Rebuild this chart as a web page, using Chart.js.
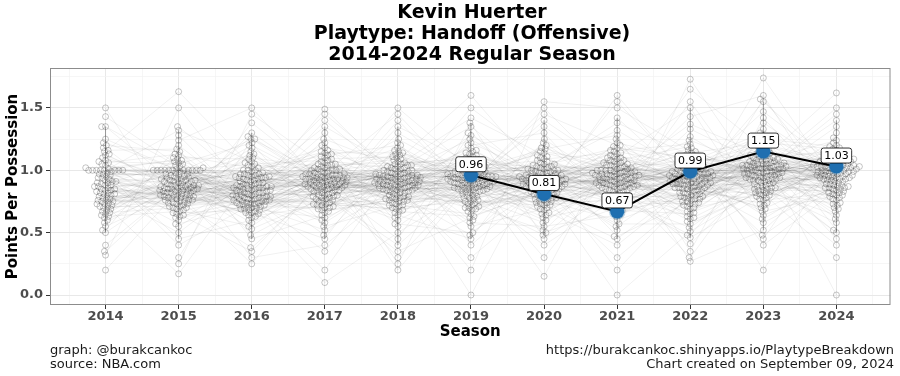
<!DOCTYPE html>
<html>
<head>
<meta charset="utf-8">
<script src="https://cdn.jsdelivr.net/npm/chart.js@4.4.1/dist/chart.umd.min.js"></script>
<style>
  html, body { margin: 0; padding: 0; background: #ffffff; }
  #wrap { position: relative; width: 900px; height: 376px; overflow: hidden; font-family: "DejaVu Sans", sans-serif; }
  #c { position: absolute; left: 0; top: 0; }
  .t { position: absolute; white-space: nowrap; }
  #title { left: 50px; width: 844px; top: 1px; text-align: center; font-weight: bold; font-size: 19px; line-height: 21px; color: #000; }
  .foot { font-size: 13px; line-height: 14px; color: #1a1a1a; }
</style>
</head>
<body>
<div id="wrap">
  <canvas id="c" width="900" height="376"></canvas>
  <div id="title" class="t">Kevin Huerter<br>Playtype: Handoff (Offensive)<br>2014-2024 Regular Season</div>
  <div class="t foot" style="left:50px; top:343px;">graph: @burakcankoc<br>source: NBA.com</div>
  <div class="t foot" style="right:6px; top:343px; text-align:right;">https://burakcankoc.shinyapps.io/PlaytypeBreakdown<br>Chart created on September 09, 2024</div>
</div>
<script>
// ---------------- DATA ----------------
const seasons = [2014, 2015, 2016, 2017, 2018, 2019, 2020, 2021, 2022, 2023, 2024];
const yTickValues = [0, 0.5, 1.0, 1.5];

const ppp2014 = [1.00,0.82,0.71,1.12,0.95,0.63,1.00,0.88,0.76,1.35,0.91,0.58,1.04,0.79,0.67,1.00,0.85,1.20,0.73,0.97,0.50,1.08,0.81,0.69,1.00,0.93,0.75,1.25,0.87,0.62,1.02,0.78,1.15,0.40,0.90,1.00,0.72,0.84,1.06,0.66,0.94,1.35,0.80,0.55,1.00,0.89,0.74,1.18,0.98,0.70,0.83,1.50,0.92,0.64,1.00,0.77,1.10,0.86,0.60,0.96,0.35,1.22,0.81,0.75,0.99,0.88,0.68,1.05,0.91,0.20,0.79,1.13,0.84,0.71,1.00,0.94,0.65,1.43,0.87,0.76,1.01,0.82,0.32,0.97,0.73,1.16,0.90,0.52,0.85,1.07];
const ppp2015 = [0.85,1.00,0.78,0.92,1.05,0.71,0.88,1.00,0.64,0.95,0.82,1.12,0.76,0.90,1.00,0.68,0.84,1.08,0.79,0.93,0.57,1.00,0.87,0.74,1.15,0.81,0.96,0.70,1.00,0.89,0.62,1.02,0.83,0.77,1.35,0.91,0.73,1.00,0.86,0.98,0.66,1.10,0.80,0.94,0.75,1.00,0.88,0.45,1.04,0.82,0.69,0.92,1.20,0.78,0.85,1.00,0.97,0.72,0.87,1.32,0.80,0.93,0.60,1.06,0.84,0.76,1.00,0.90,0.67,1.13,0.83,0.95,0.74,0.40,0.88,1.01,0.79,0.86,1.28,0.71,0.99,0.82,0.55,0.91,1.07,0.77,0.84,1.00,0.73,0.94,0.81,1.63,0.87,0.65,1.03,0.78,0.89,0.30,0.96,0.83,1.17,0.75,0.92,0.50,0.85,1.09,0.70,0.80,0.25,0.97,0.86,1.50,0.79,0.93,0.63,1.00,0.88,0.17,0.84,1.24,0.76,0.91];
const ppp2016 = [0.82,0.95,0.74,1.05,0.68,0.88,0.77,1.25,0.93,0.71,0.85,1.00,0.66,0.90,0.79,1.10,0.83,0.72,0.97,0.58,0.87,1.25,0.75,0.92,0.69,1.03,0.80,0.96,0.64,0.86,1.15,0.78,0.94,0.70,0.84,1.30,0.76,0.99,0.73,0.89,0.53,1.07,0.81,0.67,0.95,0.77,1.22,0.88,0.72,0.84,1.00,0.62,0.91,0.79,1.45,0.74,0.96,0.85,0.68,1.12,0.82,0.76,0.93,0.48,0.87,1.02,0.71,0.80,0.97,0.65,1.27,0.83,0.75,0.90,1.38,0.78,0.86,0.60,1.06,0.73,0.94,0.81,0.70,0.89,1.18,0.77,0.38,0.92,0.84,0.66,1.00,0.79,0.95,0.55,0.74,1.09,0.86,0.72,0.98,0.35,0.82,1.50,0.76,0.91,0.63,1.04,0.80,0.88,0.25,0.94,0.69,0.85,1.20,0.78,0.30,0.97,0.75,0.87,0.45,1.13];
const ppp2017 = [0.93,0.80,1.05,0.88,0.72,0.98,1.12,0.85,0.67,0.95,1.00,0.78,0.90,1.20,0.83,0.96,0.70,1.08,0.87,0.92,0.75,1.02,0.64,0.94,0.81,1.15,0.89,0.97,0.73,1.04,0.86,0.58,0.99,0.91,0.77,1.25,0.84,0.95,0.69,1.10,0.88,1.01,0.79,0.93,0.62,1.06,0.82,0.97,0.74,1.30,0.90,0.85,1.00,0.71,0.94,1.13,0.87,0.52,0.96,0.80,1.03,0.92,0.76,1.18,0.89,0.98,0.68,0.84,1.07,0.93,0.78,1.40,0.95,0.86,0.45,1.00,0.91,0.73,1.09,0.83,0.97,0.66,0.88,1.22,0.94,0.80,1.02,0.35,0.90,0.75,1.14,0.87,0.99,0.60,0.92,1.05,0.82,0.96,0.70,1.35,0.85,0.93,0.48,1.01,0.89,0.77,1.16,0.94,0.55,0.86,1.45,0.91,0.79,0.20,0.97,1.04,0.84,0.72,1.49,0.90,0.10,0.88,1.11,0.95,0.40];
const ppp2018 = [0.92,0.85,1.03,0.78,0.96,1.10,0.88,0.72,0.99,0.83,1.06,0.91,0.75,1.15,0.87,0.95,0.68,1.01,0.90,0.80,1.20,0.93,0.86,0.62,1.04,0.97,0.77,0.89,1.12,0.84,0.94,0.70,1.00,0.88,1.25,0.81,0.96,0.74,1.08,0.91,0.57,0.98,0.85,1.02,0.79,0.93,1.35,0.87,0.66,1.05,0.90,0.95,0.76,1.14,0.82,0.97,0.50,0.89,1.01,0.73,0.92,1.18,0.86,0.99,0.69,1.07,0.84,0.94,0.78,1.40,0.91,0.60,1.03,0.88,0.96,0.75,1.22,0.83,0.93,0.45,1.00,0.87,0.71,1.09,0.95,0.80,0.98,0.64,0.90,1.16,0.85,0.92,0.30,1.04,0.77,0.97,0.89,1.30,0.82,0.94,0.55,1.11,0.86,0.99,0.72,0.91,1.45,0.79,0.25,1.02,0.88,0.67,0.95,1.05,0.40,0.84,1.50,0.93,0.20,0.76,1.13,0.90,0.35];
const ppp2019 = [0.95,0.82,1.05,0.90,0.74,1.12,0.88,0.98,0.67,1.02,0.85,0.93,1.20,0.79,0.97,0.70,1.08,0.91,0.84,1.00,0.62,0.94,1.15,0.87,0.76,1.03,0.96,0.81,1.30,0.89,0.72,0.99,0.92,1.10,0.78,0.95,0.55,1.06,0.86,0.93,0.68,1.25,0.90,0.83,1.01,0.75,0.97,1.14,0.88,0.60,0.94,1.04,0.80,0.91,1.42,0.85,0.98,0.71,1.09,0.87,0.96,0.50,0.92,1.18,0.82,1.00,0.77,0.95,1.07,0.89,0.65,1.35,0.93,0.84,0.99,0.73,1.02,0.88,0.45,0.96,1.22,0.86,0.91,0.69,1.11,0.94,0.80,1.50,0.90,0.97,0.58,1.05,0.83,0.92,0.30,1.16,0.87,0.75,1.01,0.95,0.40,0.89,1.28,0.84,0.98,0.63,1.03,0.91,0.20,0.86,1.60,0.93,0.78,1.13,0.96,0.00,0.85,1.38,0.90,0.70,1.00,0.94,0.48];
const ppp2020 = [0.90,0.83,1.02,0.76,0.95,1.10,0.87,0.70,0.98,0.81,1.05,0.92,0.74,1.15,0.86,0.94,0.66,1.00,0.89,0.79,1.22,0.93,0.84,0.60,1.03,0.97,0.77,0.88,1.12,0.82,0.95,0.71,1.08,0.91,1.30,0.80,0.96,0.73,1.04,0.87,0.55,0.99,0.85,1.01,0.78,0.92,1.40,0.88,0.64,1.06,0.90,0.94,0.75,1.17,0.83,0.97,0.50,0.89,1.00,0.72,0.93,1.20,0.86,0.98,0.68,1.09,0.84,0.91,0.79,1.45,0.95,0.58,1.02,0.87,0.96,0.74,1.25,0.82,0.92,0.45,1.00,0.88,0.69,1.07,0.94,0.80,0.99,0.62,0.90,1.14,0.85,0.93,0.30,1.03,0.76,0.97,0.89,1.35,0.81,0.95,0.52,1.11,0.86,1.50,0.72,0.91,1.55,0.78,0.15,1.01,0.87,0.65,0.94,1.05,0.40,0.83,1.18,0.92,0.48,0.77];
const ppp2021 = [0.95,0.86,1.05,0.78,0.99,1.12,0.90,0.72,1.01,0.84,1.08,0.93,0.76,1.18,0.88,0.97,0.68,1.03,0.92,0.81,1.25,0.96,0.87,0.63,1.06,1.00,0.79,0.91,1.14,0.85,0.98,0.73,1.10,0.94,1.32,0.83,0.99,0.75,1.07,0.89,0.57,1.02,0.88,1.04,0.80,0.95,1.42,0.90,0.66,1.09,0.93,0.97,0.77,1.20,0.86,1.00,0.52,0.92,1.03,0.74,0.96,1.22,0.89,1.01,0.70,1.11,0.87,0.94,0.82,1.50,0.98,0.60,1.05,0.90,0.99,0.76,1.28,0.85,0.95,0.47,1.02,0.91,0.71,1.10,0.97,0.83,1.00,0.64,0.93,1.16,0.88,0.96,0.30,1.06,0.79,1.00,0.92,1.38,0.84,0.98,0.55,1.13,0.89,1.55,0.74,0.94,1.60,0.80,0.20,1.04,0.90,0.67,0.97,1.08,0.40,0.86,1.19,0.95,0.45,0.78,0.00,0.87,1.15];
const ppp2022 = [0.92,0.84,1.04,0.77,0.97,1.11,0.89,0.71,1.00,0.82,1.07,0.94,0.75,1.16,0.87,0.96,0.67,1.02,0.91,0.80,1.24,0.95,0.86,0.62,1.05,0.99,0.78,0.90,1.13,0.83,0.97,0.72,1.09,0.93,1.33,0.81,0.98,0.74,1.06,0.88,0.57,1.01,0.86,1.03,0.79,0.94,1.43,0.89,0.65,1.08,0.92,0.96,0.76,1.19,0.85,0.99,0.51,0.91,1.02,0.73,0.95,1.21,0.88,1.00,0.69,1.10,0.86,0.93,0.80,1.50,0.97,0.59,1.04,0.89,0.98,0.75,1.27,0.84,0.94,0.46,1.01,0.90,0.70,1.09,0.96,0.82,0.99,0.63,0.92,1.15,0.87,0.95,0.35,1.05,0.78,0.98,0.91,1.37,0.83,0.97,0.54,1.12,0.88,1.55,0.73,0.93,1.65,0.79,0.27,1.03,0.89,0.66,0.96,1.07,0.41,0.85,1.18,0.94,0.48,0.77,1.73,0.86,0.30,1.01,0.81,0.61,1.14,0.90];
const ppp2023 = [1.00,0.92,1.10,0.84,1.04,1.18,0.96,0.78,1.07,0.89,1.13,1.01,0.81,1.22,0.94,1.03,0.74,1.08,0.98,0.87,1.30,1.02,0.93,0.70,1.11,1.05,0.85,0.97,1.20,0.90,1.04,0.79,1.15,1.00,1.38,0.88,1.06,0.82,1.12,0.95,0.64,1.08,0.93,1.09,0.86,1.01,1.47,0.96,0.72,1.14,0.99,1.03,0.83,1.25,0.92,1.06,0.58,0.98,1.09,0.80,1.02,1.28,0.95,1.07,0.76,1.17,0.94,1.00,0.87,1.55,1.04,0.67,1.11,0.97,1.05,0.82,1.33,0.91,1.01,0.52,1.08,0.98,0.77,1.16,1.03,0.89,1.06,0.69,0.99,1.21,0.94,1.02,0.45,1.12,0.85,1.05,0.97,1.42,0.90,1.04,0.61,1.19,0.95,1.60,0.80,1.00,1.57,0.86,0.20,1.10,0.96,0.73,1.03,1.14,0.48,0.92,1.24,1.01,0.40,0.84,1.74,0.93];
const ppp2024 = [1.00,0.91,1.08,0.84,1.03,1.15,0.95,0.78,1.05,0.88,1.11,0.99,0.81,1.19,0.93,1.02,0.74,1.07,0.97,0.86,1.26,1.01,0.92,0.70,1.09,1.04,0.85,0.96,1.17,0.89,1.03,0.79,1.13,0.98,1.35,0.87,1.05,0.82,1.10,0.94,0.64,1.06,0.92,1.07,0.86,0.99,1.45,0.95,0.72,1.12,0.98,1.02,0.83,1.22,0.91,1.04,0.58,0.97,1.08,0.80,1.01,1.24,0.94,1.06,0.76,1.14,0.93,0.99,0.87,1.50,1.03,0.67,1.09,0.96,1.04,0.82,1.30,0.90,1.00,0.52,1.07,0.97,0.77,1.16,1.02,0.88,1.05,0.69,0.98,1.20,0.93,1.01,0.45,1.11,0.85,1.04,0.96,1.40,0.89,1.03,0.61,1.18,0.94,1.62,0.80,0.99,0.30,0.86,0.40,1.09,0.95,0.73,1.02,0.00,0.50];

const huerterSeasons = [2019, 2020, 2021, 2022, 2023, 2024];
const huerterPPP = [0.96, 0.81, 0.67, 0.99, 1.15, 1.03];

const seasonValues = [ppp2014, ppp2015, ppp2016, ppp2017, ppp2018, ppp2019, ppp2020, ppp2021, ppp2022, ppp2023, ppp2024];

// ---------------- LAYOUT HELPERS ----------------
const X_MIN = 2013.24, X_MAX = 2024.74, Y_MIN = -0.08, Y_MAX = 1.82;
const PLOT_W = 844, PLOT_H = 237;
const pxPerX = PLOT_W / (X_MAX - X_MIN);
const pxPerY = PLOT_H / (Y_MAX - Y_MIN);
const SWARM_D = 3.9; // min distance between point centres (px)

function beeswarm(vals) {
  const idx = vals.map((v, i) => i).sort((a, b) => vals[a] - vals[b]);
  const placed = [];
  const off = new Array(vals.length).fill(0);
  for (const i of idx) {
    const y = vals[i] * pxPerY;
    const near = placed.filter(p => Math.abs(p.y - y) < SWARM_D);
    const cands = [0];
    for (const p of near) {
      const dx = Math.sqrt(SWARM_D * SWARM_D - (p.y - y) * (p.y - y));
      cands.push(p.x + dx, p.x - dx);
    }
    cands.sort((a, b) => Math.abs(a) - Math.abs(b) || a - b);
    let chosen = 0;
    for (const c of cands) {
      let ok = true;
      for (const p of near) {
        const ddx = p.x - c, ddy = p.y - y;
        if (ddx * ddx + ddy * ddy < SWARM_D * SWARM_D - 0.01) { ok = false; break; }
      }
      if (ok) { chosen = c; break; }
    }
    placed.push({ x: chosen, y: y });
    off[i] = chosen;
  }
  return off;
}

// swarm points
const swarmPoints = [];
seasonValues.forEach((vals, s) => {
  const off = beeswarm(vals);
  vals.forEach((v, i) => swarmPoints.push({ x: seasons[s] + off[i] / pxPerX, y: v }));
});

// player connecting segments between consecutive seasons
// (row i of one season is linked to a fixed, scrambled row of the next season)
const playerLines = [];
for (let s = 0; s < seasons.length - 1; s++) {
  const a = seasonValues[s], b = seasonValues[s + 1];
  for (let i = 0; i < a.length; i++) {
    const j = (i * 37 + s * 13 + 5) % b.length;
    playerLines.push({ x: seasons[s], y: a[i] });
    playerLines.push({ x: seasons[s + 1], y: b[j] });
    playerLines.push({ x: seasons[s + 1], y: null });
  }
}

// within-season vertical strokes
const seasonStrokes = [];
seasonValues.forEach((vals, s) => {
  const sorted = vals.slice().sort((a, b) => a - b);
  seasonStrokes.push({ x: seasons[s], y: sorted[4] });
  seasonStrokes.push({ x: seasons[s], y: sorted[sorted.length - 4] });
  seasonStrokes.push({ x: seasons[s], y: null });
});

const huerterData = huerterSeasons.map((s, i) => ({ x: s, y: huerterPPP[i] }));

// ---------------- PLUGINS ----------------
const panelPlugin = {
  id: 'panel',
  afterDatasetsDraw(chart) {
    const { ctx, chartArea: a } = chart;
    const meta = chart.getDatasetMeta(0);
    ctx.save();
    ctx.font = '11px "DejaVu Sans", sans-serif';
    ctx.textAlign = 'center';
    ctx.textBaseline = 'middle';
    meta.data.forEach((el, i) => {
      const txt = huerterPPP[i].toFixed(2);
      const w = ctx.measureText(txt).width + 6;
      const h = 15;
      const cx = el.x, cy = el.y - 11;
      const r = 2.5;
      const x0 = cx - w / 2, y0 = cy - h / 2;
      ctx.beginPath();
      ctx.moveTo(x0 + r, y0);
      ctx.lineTo(x0 + w - r, y0);
      ctx.quadraticCurveTo(x0 + w, y0, x0 + w, y0 + r);
      ctx.lineTo(x0 + w, y0 + h - r);
      ctx.quadraticCurveTo(x0 + w, y0 + h, x0 + w - r, y0 + h);
      ctx.lineTo(x0 + r, y0 + h);
      ctx.quadraticCurveTo(x0, y0 + h, x0, y0 + h - r);
      ctx.lineTo(x0, y0 + r);
      ctx.quadraticCurveTo(x0, y0, x0 + r, y0);
      ctx.closePath();
      ctx.fillStyle = '#ffffff';
      ctx.fill();
      ctx.lineWidth = 0.8;
      ctx.strokeStyle = '#000000';
      ctx.stroke();
      ctx.fillStyle = '#000000';
      ctx.fillText(txt, cx, cy + 0.5);
    });
    ctx.strokeStyle = '#8c8c8c';
    ctx.lineWidth = 1;
    ctx.strokeRect(a.left + 0.5, a.top + 0.5, a.right - a.left - 1, a.bottom - a.top - 1);
    ctx.restore();
  }
};

// ---------------- CHART ----------------
const isMajorY = v => Math.abs(v * 2 - Math.round(v * 2)) < 1e-6;
const isMajorX = v => Math.abs(v - Math.round(v)) < 1e-6;

new Chart(document.getElementById('c'), {
  type: 'scatter',
  data: {
    datasets: [
      {
        label: 'Kevin Huerter',
        data: huerterData,
        showLine: true,
        borderColor: '#000000',
        borderWidth: 2,
        pointRadius: 7,
        pointBackgroundColor: '#1f6fb0',
        pointBorderColor: 'rgba(31,111,176,0.3)',
        pointBorderWidth: 2.5,
        order: 0
      },
      {
        label: 'players',
        data: swarmPoints,
        pointRadius: 3,
        pointBackgroundColor: 'rgba(0,0,0,0)',
        pointBorderColor: 'rgba(40,40,40,0.45)',
        pointBorderWidth: 0.6,
        order: 1
      },
      {
        label: 'season strokes',
        data: seasonStrokes,
        showLine: true,
        spanGaps: false,
        borderColor: 'rgba(30,30,30,0.4)',
        borderWidth: 1,
        pointRadius: 0,
        order: 2
      },
      {
        label: 'player lines',
        data: playerLines,
        showLine: true,
        spanGaps: false,
        borderColor: 'rgba(0,0,0,0.08)',
        borderWidth: 0.8,
        pointRadius: 0,
        order: 3
      }
    ]
  },
  options: {
    responsive: false,
    animation: false,
    events: [],
    layout: { padding: { top: 68, right: 6, bottom: 31, left: 0 } },
    plugins: { legend: { display: false }, tooltip: { enabled: false }, title: { display: false } },
    scales: {
      x: {
        type: 'linear',
        min: X_MIN,
        max: X_MAX,
        afterBuildTicks(scale) {
          const t = [];
          for (let v = seasons[0] - 0.5; v <= seasons[seasons.length - 1] + 0.5; v += 0.5) t.push({ value: v });
          scale.ticks = t;
        },
        afterFit(scale) { scale.height = 40; },
        ticks: {
          autoSkip: false,
          maxRotation: 0,
          padding: 0,
          color: '#4d4d4d',
          font: { family: '"DejaVu Sans", sans-serif', size: 13, weight: 'bold' },
          callback: v => (isMajorX(v) && seasons.includes(Math.round(v))) ? String(Math.round(v)) : ''
        },
        grid: {
          color: ctx => isMajorX(ctx.tick.value) ? '#e8e8e8' : '#f2f2f2',
          lineWidth: ctx => isMajorX(ctx.tick.value) ? 1 : 0.7,
          tickColor: ctx => (isMajorX(ctx.tick.value) && seasons.includes(Math.round(ctx.tick.value))) ? '#333333' : 'rgba(0,0,0,0)',
          tickLength: 4,
          drawTicks: true
        },
        border: { display: false },
        title: {
          display: true,
          text: 'Season',
          color: '#000000',
          font: { family: '"DejaVu Sans", sans-serif', size: 15, weight: 'bold' },
          padding: { top: 0, bottom: 4 }
        }
      },
      y: {
        type: 'linear',
        min: Y_MIN,
        max: Y_MAX,
        afterBuildTicks(scale) {
          const t = [];
          for (let v = 0; v <= 1.75 + 1e-9; v += 0.25) t.push({ value: Math.round(v * 100) / 100 });
          scale.ticks = t;
        },
        afterFit(scale) { scale.width = 50; },
        ticks: {
          padding: 3,
          color: '#4d4d4d',
          font: { family: '"DejaVu Sans", sans-serif', size: 13, weight: 'bold' },
          callback: v => yTickValues.some(t => Math.abs(t - v) < 1e-6) ? v.toFixed(1) : ''
        },
        grid: {
          color: ctx => isMajorY(ctx.tick.value) ? '#e8e8e8' : '#f2f2f2',
          lineWidth: ctx => isMajorY(ctx.tick.value) ? 1 : 0.7,
          tickColor: ctx => isMajorY(ctx.tick.value) ? '#333333' : 'rgba(0,0,0,0)',
          tickLength: 4,
          drawTicks: true
        },
        border: { display: false },
        title: {
          display: true,
          text: 'Points Per Possession',
          color: '#000000',
          font: { family: '"DejaVu Sans", sans-serif', size: 15, weight: 'bold' },
          padding: { top: 4, bottom: 0 }
        }
      }
    }
  },
  plugins: [panelPlugin]
});
</script>
</body>
</html>
